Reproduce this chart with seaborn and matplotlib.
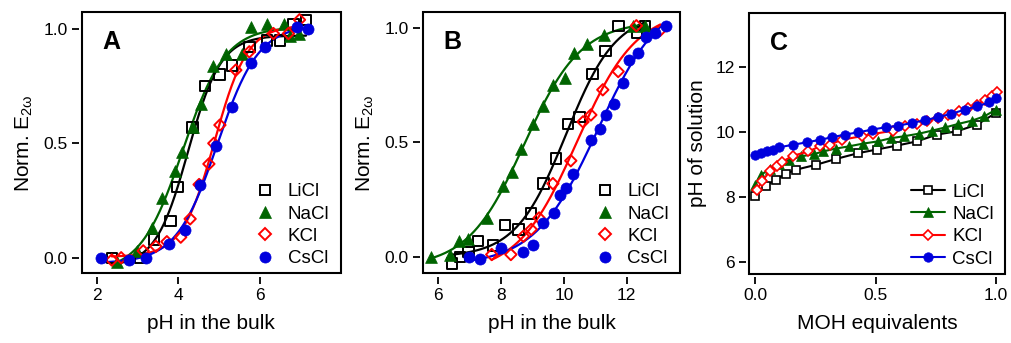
import numpy as np
import pandas as pd
import matplotlib
matplotlib.use("Agg")
import matplotlib.pyplot as plt
from matplotlib.patches import Rectangle
from matplotlib.lines import Line2D
import seaborn as sns

sns.set_theme(style="ticks")
plt.rcParams["font.family"] = ["Liberation Sans", "DejaVu Sans"]
plt.rcParams["mathtext.fontset"] = "custom"
plt.rcParams["mathtext.rm"] = "Liberation Sans"
plt.rcParams["mathtext.it"] = "Liberation Sans:italic"
plt.rcParams["text.color"] = "black"
plt.rcParams["axes.labelcolor"] = "black"
plt.rcParams["xtick.color"] = "black"
plt.rcParams["ytick.color"] = "black"

salts = ["LiCl", "NaCl", "KCl", "CsCl"]

# Panel A: normalized SHG field vs bulk pH
a_ph = {
    "LiCl": [2.37, 3.06, 3.40, 3.81, 3.98, 4.35, 4.66, 5.01, 5.32, 5.75, 6.18, 6.49, 6.82, 7.13],
    "NaCl": [2.49, 3.00, 3.35, 3.61, 3.92, 4.10, 4.35, 4.55, 4.86, 5.16, 5.55, 5.79, 6.18, 6.59, 6.74, 6.95],
    "KCl": [2.37, 2.60, 3.14, 3.45, 3.72, 4.06, 4.29, 4.51, 4.75, 4.87, 5.02, 5.41, 5.74, 6.33, 6.70, 6.97],
    "CsCl": [2.11, 2.80, 3.21, 3.77, 4.16, 4.53, 4.92, 5.32, 5.79, 6.13, 6.92, 7.19],
}
a_e = {
    "LiCl": [0.00, 0.00, 0.08, 0.16, 0.31, 0.57, 0.75, 0.80, 0.84, 0.92, 0.95, 0.95, 1.02, 1.04],
    "NaCl": [-0.02, 0.03, 0.13, 0.26, 0.38, 0.46, 0.57, 0.67, 0.84, 0.89, 0.89, 1.01, 1.02, 1.02, 0.97, 0.98],
    "KCl": [-0.01, 0.00, 0.03, 0.05, 0.07, 0.09, 0.17, 0.32, 0.41, 0.50, 0.58, 0.82, 0.90, 0.98, 0.98, 1.04],
    "CsCl": [0.00, -0.01, 0.00, 0.06, 0.12, 0.32, 0.49, 0.66, 0.85, 0.92, 1.01, 1.00],
}

# Panel B
b_ph = {
    "LiCl": [6.43, 6.69, 6.96, 7.26, 7.75, 8.13, 8.55, 8.96, 9.35, 9.75, 10.13, 10.50, 10.91, 11.32, 11.74, 12.33, 12.59],
    "NaCl": [5.77, 6.37, 6.67, 6.93, 7.54, 8.07, 8.34, 8.64, 9.01, 9.32, 9.65, 10.04, 10.31, 10.73, 11.29, 12.20, 12.59],
    "KCl": [7.70, 8.31, 8.71, 8.96, 9.21, 9.65, 10.22, 10.61, 10.86, 11.24, 11.73, 12.31, 13.07],
    "CsCl": [6.99, 7.33, 7.99, 8.69, 9.00, 9.35, 9.70, 9.88, 10.06, 10.29, 10.86, 11.16, 11.34, 11.61, 11.88, 12.06, 12.35, 12.62, 12.89, 13.26],
}
b_e = {
    "LiCl": [-0.03, 0.00, 0.02, 0.07, 0.05, 0.14, 0.12, 0.19, 0.32, 0.43, 0.58, 0.61, 0.80, 0.90, 1.01, 0.98, 1.01],
    "NaCl": [0.00, 0.01, 0.07, 0.08, 0.17, 0.31, 0.37, 0.47, 0.58, 0.66, 0.75, 0.78, 0.89, 0.93, 0.97, 1.01, 1.01],
    "KCl": [0.01, 0.01, 0.09, 0.12, 0.17, 0.32, 0.42, 0.59, 0.62, 0.73, 0.81, 1.01, 0.99],
    "CsCl": [0.00, -0.01, 0.04, 0.02, 0.05, 0.15, 0.19, 0.27, 0.30, 0.36, 0.51, 0.56, 0.62, 0.67, 0.76, 0.86, 0.89, 0.96, 0.98, 1.01],
}

# Panel C: titration curves, pH of solution vs MOH equivalents
c_eq = {
    "LiCl": [0.0, 0.044, 0.086, 0.128, 0.169, 0.252, 0.335, 0.428, 0.504, 0.587, 0.671, 0.754, 0.837, 0.922, 1.0],
    "NaCl": [0.0, 0.025, 0.061, 0.10, 0.14, 0.19, 0.245, 0.28, 0.335, 0.39, 0.446, 0.508, 0.564, 0.619, 0.681, 0.733, 0.789, 0.844, 0.90, 0.951, 1.0],
    "KCl": [0.006, 0.027, 0.061, 0.091, 0.11, 0.158, 0.22, 0.269, 0.31, 0.359, 0.442, 0.49, 0.573, 0.622, 0.67, 0.712, 0.76, 0.80, 0.848, 0.885, 0.92, 0.954, 0.982, 1.005],
    "CsCl": [0.0, 0.025, 0.049, 0.074, 0.10, 0.158, 0.213, 0.269, 0.32, 0.372, 0.428, 0.483, 0.545, 0.594, 0.65, 0.705, 0.76, 0.815, 0.871, 0.922, 0.972, 1.0],
}
c_ph = {
    "LiCl": [8.01, 8.34, 8.52, 8.71, 8.83, 8.98, 9.16, 9.34, 9.45, 9.57, 9.70, 9.91, 10.01, 10.22, 10.58],
    "NaCl": [8.37, 8.68, 8.85, 9.02, 9.12, 9.24, 9.31, 9.39, 9.48, 9.55, 9.63, 9.70, 9.80, 9.86, 9.94, 10.03, 10.13, 10.24, 10.34, 10.47, 10.68],
    "KCl": [8.19, 8.47, 8.78, 8.93, 9.07, 9.26, 9.39, 9.55, 9.60, 9.75, 9.86, 9.93, 10.03, 10.16, 10.25, 10.32, 10.42, 10.52, 10.63, 10.73, 10.83, 10.98, 11.09, 11.22],
    "CsCl": [9.29, 9.34, 9.39, 9.45, 9.52, 9.60, 9.67, 9.75, 9.83, 9.91, 9.98, 10.06, 10.14, 10.18, 10.27, 10.35, 10.45, 10.55, 10.68, 10.78, 10.90, 11.04],
}

colors = {"LiCl": "#000000", "NaCl": "#006400", "KCl": "#ff0000", "CsCl": "#0000dd"}
markers = {"LiCl": "s", "NaCl": "^", "KCl": "D", "CsCl": "o"}
hollow = {"LiCl": True, "NaCl": False, "KCl": True, "CsCl": False}
msize = {"LiCl": 7.5, "NaCl": 8.5, "KCl": 5.8, "CsCl": 8.0}


def sigmoid_fit(x, y):
    """Least-squares sigmoid y = a + b / (1 + exp(-(x - x0) / w))."""
    x = np.asarray(x, float)
    y = np.asarray(y, float)
    x0s = np.linspace(x.min(), x.max(), 240)
    ws = np.linspace(0.15, 2.5, 160)
    X0, W = np.meshgrid(x0s, ws, indexing="ij")
    S = 1.0 / (1.0 + np.exp(-(x[None, None, :] - X0[..., None]) / W[..., None]))
    sm, ym = S.mean(-1), y.mean()
    cov = ((S - sm[..., None]) * (y - ym)).sum(-1)
    var = ((S - sm[..., None]) ** 2).sum(-1)
    b = cov / var
    a = ym - b * sm
    err = ((a[..., None] + b[..., None] * S - y) ** 2).sum(-1)
    i, j = np.unravel_index(np.argmin(err), err.shape)
    xs = np.linspace(x.min(), x.max(), 300)
    ys = a[i, j] + b[i, j] / (1.0 + np.exp(-(xs - X0[i, j]) / W[i, j]))
    return xs, ys


def style_axes(ax):
    for side in ["top", "right"]:
        ax.spines[side].set_visible(False)
    for side in ["bottom", "left"]:
        ax.spines[side].set_position(("outward", 2.5))
        ax.spines[side].set_color("none")
    ax.add_patch(Rectangle((0, 0), 1, 1, transform=ax.transAxes, fill=False,
                           lw=1.5, ec="black", clip_on=False, zorder=10))
    ax.tick_params(direction="out", length=5, width=1.3, labelsize=12.5,
                   color="black", labelcolor="black", pad=3)
    ax.grid(False)
    ax.set_facecolor("white")


fig = plt.figure(figsize=(10.11, 3.43), dpi=100)
fig.patch.set_facecolor("white")
axA = fig.add_axes([0.0811, 0.2032, 0.2559, 0.7618])
axB = fig.add_axes([0.4187, 0.2032, 0.2542, 0.7618])
axC = fig.add_axes([0.7411, 0.2020, 0.2529, 0.7610])


def sigmoid_panel(ax, ph, e):
    for s in salts:
        xs, ys = sigmoid_fit(ph[s], e[s])
        sns.lineplot(x=xs, y=ys, ax=ax, color=colors[s], lw=1.6, sort=False,
                     estimator=None, zorder=2)
    for s in salts:
        df = pd.DataFrame({"ph": ph[s], "e": e[s]})
        kw = dict(marker=markers[s], s=msize[s] ** 2, zorder=3, label=s)
        if hollow[s]:
            sns.scatterplot(data=df, x="ph", y="e", ax=ax, facecolor="none",
                            edgecolor=colors[s], linewidth=1.4, **kw)
        else:
            sns.scatterplot(data=df, x="ph", y="e", ax=ax, color=colors[s],
                            edgecolor=colors[s], linewidth=0.5, **kw)
    handles = []
    for s in salts:
        handles.append(Line2D([], [], ls="none", marker=markers[s],
                              ms=msize[s],
                              mfc="none" if hollow[s] else colors[s],
                              mec=colors[s], mew=1.4 if hollow[s] else 0.5,
                              label=s))
    return handles


legend_kw = dict(loc="lower right", bbox_to_anchor=(1.0, -0.02),
                 frameon=False, fontsize=13.5, labelspacing=0.28,
                 borderaxespad=0.2)

hA = sigmoid_panel(axA, a_ph, a_e)
axA.set_xlim(1.64, 7.98)
axA.set_ylim(-0.068, 1.074)
axA.set_xticks([2, 4, 6])
axA.set_yticks([0.0, 0.5, 1.0])
axA.set_yticklabels(["0.0", "0.5", "1.0"])
axA.legend(handles=hA, handletextpad=0.6, handlelength=1.2, **legend_kw)

hB = sigmoid_panel(axB, b_ph, b_e)
axB.set_xlim(5.52, 13.71)
axB.set_ylim(-0.072, 1.07)
axB.set_xticks([6, 8, 10, 12])
axB.set_yticks([0.0, 0.5, 1.0])
axB.set_yticklabels(["0.0", "0.5", "1.0"])
axB.legend(handles=hB, handletextpad=0.6, handlelength=1.2, **legend_kw)

for s in salts:
    sns.lineplot(x=c_eq[s], y=c_ph[s], ax=axC, color=colors[s], lw=1.5,
                 sort=False, estimator=None, marker=markers[s],
                 markersize=msize[s] * 0.85,
                 markerfacecolor="white" if hollow[s] else colors[s],
                 markeredgecolor=colors[s],
                 markeredgewidth=1.2 if hollow[s] else 0.5, label=s)
axC.set_xlim(-0.025, 1.037)
axC.set_ylim(5.63, 13.66)
axC.set_xticks([0.0, 0.5, 1.0])
axC.set_xticklabels(["0.0", "0.5", "1.0"])
axC.set_yticks([6, 8, 10, 12])
axC.legend(handletextpad=0.4, handlelength=1.8, **legend_kw)

for ax in (axA, axB, axC):
    style_axes(ax)

axA.set_xlabel("pH in the bulk", fontsize=15, labelpad=8)
axB.set_xlabel("pH in the bulk", fontsize=15, labelpad=8)
axC.set_xlabel("MOH equivalents", fontsize=15, labelpad=8)
axA.set_ylabel(r"Norm. E$_{\mathregular{2ω}}$", fontsize=15, labelpad=6)
axB.set_ylabel(r"Norm. E$_{\mathregular{2ω}}$", fontsize=15, labelpad=6)
axC.set_ylabel("pH of solution", fontsize=15, labelpad=6)

for ax, letter in ((axA, "A"), (axB, "B"), (axC, "C")):
    ax.text(0.115, 0.885, letter, transform=ax.transAxes, fontsize=18,
            fontweight="bold", ha="center", va="center")

fig.savefig("out.png", dpi=100, facecolor="white")
